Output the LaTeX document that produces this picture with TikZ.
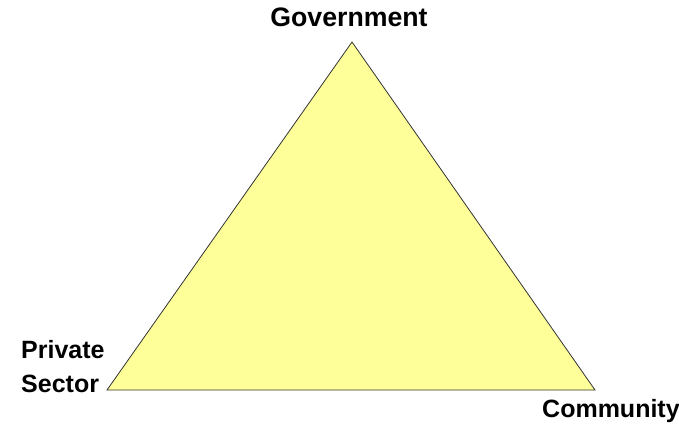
\documentclass[tikz,border=0pt]{standalone}
\usepackage{fontspec}
\setmainfont{Liberation Sans}
\definecolor{paleyellow}{RGB}{255,255,153}
\tikzset{
  label text/.style={font=\bfseries\fontsize{25}{34}\selectfont, inner sep=0pt},
}

\begin{document}
\begin{tikzpicture}[x=1pt, y=1pt]
  \useasboundingbox (0,0) rectangle (679,423);
  \coordinate (top) at (352,381);
  \coordinate (left) at (107,33);
  \coordinate (right) at (595,33);
  \node[label text, font=\bfseries\fontsize{26.7}{34}\selectfont, anchor=base] (gov) at (349,396) {Government};
  \node[label text, anchor=base west, align=left] (priv) at (21,31) {Private\\Sector};
  \node[label text, anchor=base west] (comm) at (542,6) {Community};
  \draw[fill=paleyellow, draw=black!80, line width=0.8pt, line join=miter] (top) -- (left) -- (right) -- cycle;
\end{tikzpicture}
\end{document}
